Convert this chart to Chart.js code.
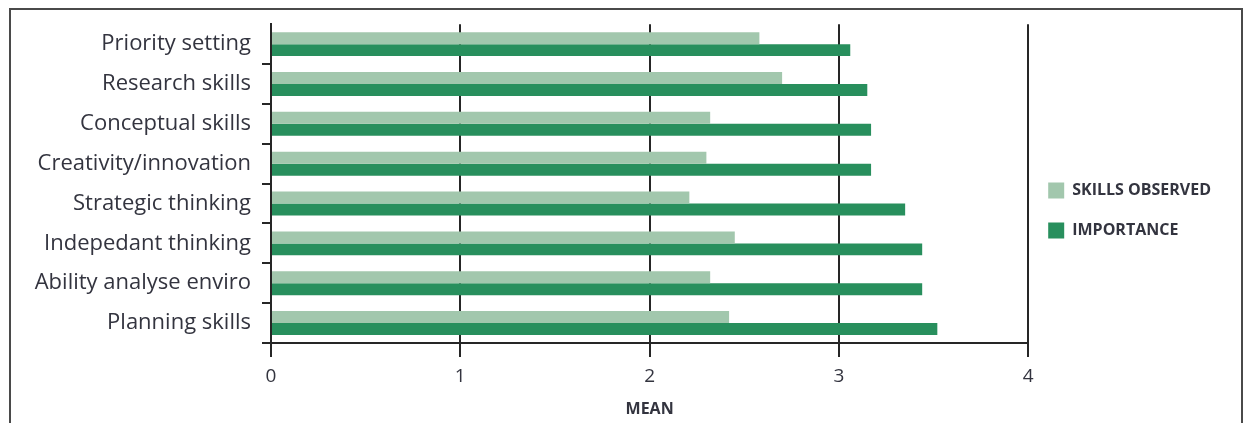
<!DOCTYPE html>
<html>
<head>
<meta charset="utf-8">
<script src="https://cdn.jsdelivr.net/npm/chart.js@4.4.1/dist/chart.umd.min.js"></script>
<style>
  html, body { margin: 0; padding: 0; background: #fff; overflow: hidden; }
  #wrap { position: absolute; left: 0; top: 0; width: 1248px; height: 423px; }
  #frame { position: absolute; left: 9px; top: 8px; width: 1230px; height: 500px;
           border: 2px solid #4a4a4a; pointer-events: none; }
</style>
</head>
<body>
<div id="wrap"><canvas id="skillsChart" width="1248" height="423"></canvas></div>
<div id="frame"></div>
<script>
const skills = [
    'Priority setting',
    'Research skills',
    'Conceptual skills',
    'Creativity/innovation',
    'Strategic thinking',
    'Indepedant thinking',
    'Ability analyse enviro',
    'Planning skills'
];
const observed = [2.58, 2.70, 2.32, 2.30, 2.21, 2.45, 2.32, 2.42];
const importance = [3.06, 3.15, 3.17, 3.17, 3.35, 3.44, 3.44, 3.52];
const meanTicks = [0, 1, 2, 3, 4];

const ink = '#262626';
const textColor = '#33343f';
const fontFace = '"Open Sans", "Noto Sans", sans-serif';

// move the legend block a little up/left after Chart.js has laid it out
const legendNudge = {
    id: 'legendNudge',
    afterLayout(chart) {
        const lg = chart.legend;
        if (!lg) return;
        lg.top -= 13;
        lg.bottom -= 13;
        lg.left -= 4;
        lg.right -= 4;
    }
};

const ctx = document.getElementById('skillsChart').getContext('2d');

const chart = new Chart(ctx, {
    type: 'bar',
    data: {
        labels: skills,
        datasets: [
            {
                label: 'SKILLS OBSERVED',
                data: observed,
                backgroundColor: '#a2c7ad',
                borderWidth: 0,
                categoryPercentage: 0.6,
                barPercentage: 1.0
            },
            {
                label: 'IMPORTANCE',
                data: importance,
                backgroundColor: '#288f5d',
                borderWidth: 0,
                categoryPercentage: 0.6,
                barPercentage: 1.0
            }
        ]
    },
    plugins: [legendNudge],
    options: {
        indexAxis: 'y',
        responsive: false,
        animation: false,
        layout: {
            padding: { top: 24, left: 0, right: 23, bottom: 0 }
        },
        plugins: {
            tooltip: { enabled: false },
            legend: {
                position: 'right',
                align: 'center',
                labels: {
                    boxWidth: 16,
                    boxHeight: 16,
                    padding: 24,
                    color: textColor,
                    font: { family: fontFace, size: 16, weight: 'bold' }
                }
            }
        },
        scales: {
            x: {
                min: 0,
                max: 4,
                afterBuildTicks: (scale) => {
                    scale.ticks = meanTicks.map(v => ({ value: v }));
                },
                afterFit: (scale) => { scale.height = 80; },
                grid: {
                    color: ink,
                    lineWidth: 2,
                    tickLength: 14
                },
                border: { display: true, color: ink, width: 2 },
                ticks: {
                    color: textColor,
                    padding: 8,
                    font: { family: fontFace, size: 19 }
                },
                title: {
                    display: true,
                    text: 'MEAN',
                    color: textColor,
                    padding: { top: 4, bottom: 4 },
                    font: { family: fontFace, size: 16, weight: 'bold' }
                }
            },
            y: {
                afterFit: (scale) => { scale.width = 271; },
                grid: {
                    drawOnChartArea: false,
                    color: (c) => c.index === 0 ? 'rgba(0,0,0,0)' : ink,
                    lineWidth: 2,
                    tickLength: 9
                },
                border: { display: true, color: ink, width: 2 },
                ticks: {
                    color: textColor,
                    padding: 11,
                    font: { family: fontFace, size: 22 }
                }
            }
        }
    }
});
</script>
</body>
</html>
